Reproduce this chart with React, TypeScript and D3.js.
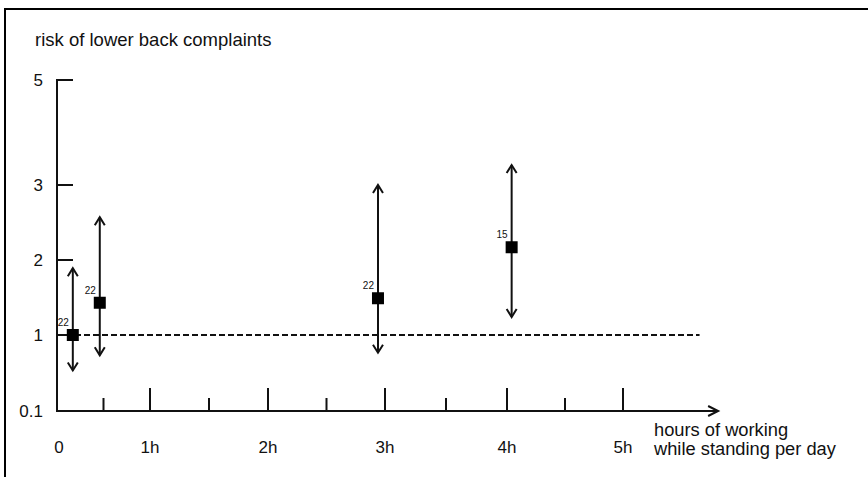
import { useEffect, useRef } from 'react';
import * as d3 from 'd3';

// study groups: hours standing per day, relative risk and its interval
const hours = [0.17, 0.46, 2.94, 4.04];
const risk = [1.0, 1.43, 1.49, 2.17];
const riskLow = [0.58, 0.76, 0.79, 1.24];
const riskHigh = [1.89, 2.57, 3.0, 3.38];
const counts = ['22', '22', '22', '15'];

const xTickValues = [0, 1, 2, 3, 4, 5];
const xTickLabels = ['0', '1h', '2h', '3h', '4h', '5h'];
const xMinorTicks = [0.5, 1.5, 2.5, 3.5, 4.5];
const yTickValues = [0.1, 1, 2, 3, 5];
const yTickLabels = ['0.1', '1', '2', '3', '5'];

const yTitle = 'risk of lower back complaints';
const xTitle = ['hours of working', 'while standing per day'];

const W = 868;
const H = 477;
const FONT = '"Liberation Sans", Arial, Helvetica, sans-serif';
const INK = '#111';

export default function App() {
  const svgRef = useRef<SVGSVGElement>(null);

  useEffect(() => {
    if (!svgRef.current) return;
    const svg = d3.select(svgRef.current);
    svg.selectAll('*').remove();

    // the axes are not evenly spaced in the original, so piecewise scales
    const x = d3.scaleLinear().domain([0, 1, 2, 3, 4, 5]).range([57, 150, 268, 385, 507, 623]);
    const y = d3.scaleLinear().domain([0.1, 1, 2, 3, 5]).range([411, 335, 260, 185, 80]);

    const x0 = x(0);
    const y0 = y(0.1);
    const xEnd = x(5.82);

    // frame
    svg.append('line').attr('x1', 5).attr('x2', 5).attr('y1', 9).attr('y2', H)
      .attr('stroke', '#000').attr('stroke-width', 2);
    svg.append('line').attr('x1', 4).attr('x2', W).attr('y1', 9).attr('y2', 9)
      .attr('stroke', '#000').attr('stroke-width', 2);

    const g = svg.append('g');

    // y axis
    g.append('line').attr('x1', x0).attr('x2', x0).attr('y1', y(5) - 1).attr('y2', y0)
      .attr('stroke', INK).attr('stroke-width', 2);
    yTickValues.filter(v => v > 0.1).forEach(v => {
      g.append('line').attr('x1', x0).attr('x2', x0 + 16).attr('y1', y(v)).attr('y2', y(v))
        .attr('stroke', INK).attr('stroke-width', 2);
    });
    yTickValues.forEach((v, i) => {
      g.append('text')
        .attr('x', 43).attr('y', y(v) + 6)
        .attr('text-anchor', 'end')
        .attr('fill', INK)
        .style('font-family', FONT).style('font-size', '17px')
        .text(yTickLabels[i]);
    });

    g.append('text')
      .attr('x', 35).attr('y', 46)
      .attr('fill', INK)
      .style('font-family', FONT).style('font-size', '18.5px')
      .text(yTitle);

    // x axis with arrow
    g.append('line').attr('x1', x0 - 1).attr('x2', xEnd).attr('y1', y0).attr('y2', y0)
      .attr('stroke', INK).attr('stroke-width', 2);
    g.append('path')
      .attr('d', `M${xEnd - 10},${y0 - 5}L${xEnd},${y0}L${xEnd - 10},${y0 + 5}`)
      .attr('fill', 'none').attr('stroke', INK).attr('stroke-width', 2);

    xTickValues.filter(v => v > 0).forEach(v => {
      g.append('line').attr('x1', x(v)).attr('x2', x(v)).attr('y1', y0).attr('y2', y0 - 23)
        .attr('stroke', INK).attr('stroke-width', 2);
    });
    xMinorTicks.forEach(v => {
      g.append('line').attr('x1', x(v)).attr('x2', x(v)).attr('y1', y0).attr('y2', y0 - 13)
        .attr('stroke', INK).attr('stroke-width', 2);
    });
    xTickValues.forEach((v, i) => {
      g.append('text')
        .attr('x', x(v) + (i === 0 ? 2 : 0)).attr('y', 453)
        .attr('text-anchor', 'middle')
        .attr('fill', INK)
        .style('font-family', FONT).style('font-size', '17px')
        .text(xTickLabels[i]);
    });

    xTitle.forEach((t, i) => {
      g.append('text')
        .attr('x', 654).attr('y', 436 + i * 19)
        .attr('fill', INK)
        .style('font-family', FONT).style('font-size', '18.3px')
        .text(t);
    });

    // reference line at risk 1
    g.append('line')
      .attr('x1', x0).attr('x2', x(5.66))
      .attr('y1', y(1)).attr('y2', y(1))
      .attr('stroke', INK).attr('stroke-width', 2)
      .attr('stroke-dasharray', '6,3');

    // error bars with open arrowheads at both ends
    hours.forEach((h, i) => {
      const cx = x(h);
      const top = y(riskHigh[i]);
      const bot = y(riskLow[i]);
      g.append('line').attr('x1', cx).attr('x2', cx).attr('y1', top).attr('y2', bot)
        .attr('stroke', INK).attr('stroke-width', 2);
      g.append('path')
        .attr('d', `M${cx - 5},${top + 8}L${cx},${top}L${cx + 5},${top + 8}`)
        .attr('fill', 'none').attr('stroke', INK).attr('stroke-width', 2);
      g.append('path')
        .attr('d', `M${cx - 5},${bot - 8}L${cx},${bot}L${cx + 5},${bot - 8}`)
        .attr('fill', 'none').attr('stroke', INK).attr('stroke-width', 2);
    });

    // point estimates
    g.selectAll('rect.pt')
      .data(hours)
      .join('rect')
      .attr('class', 'pt')
      .attr('x', (h) => x(h) - 6)
      .attr('y', (_, i) => y(risk[i]) - 6)
      .attr('width', 12)
      .attr('height', 12)
      .attr('fill', '#000');

    g.selectAll('text.n')
      .data(hours)
      .join('text')
      .attr('class', 'n')
      .attr('x', (h) => x(h) - 4)
      .attr('y', (_, i) => y(risk[i]) - 9)
      .attr('text-anchor', 'end')
      .attr('fill', INK)
      .style('font-family', FONT).style('font-size', '10px')
      .text((_, i) => counts[i]);
  }, []);

  return (
    <svg
      ref={svgRef}
      width={W}
      height={H}
      style={{ position: 'absolute', left: 0, top: 0, background: '#fff' }}
    />
  );
}
